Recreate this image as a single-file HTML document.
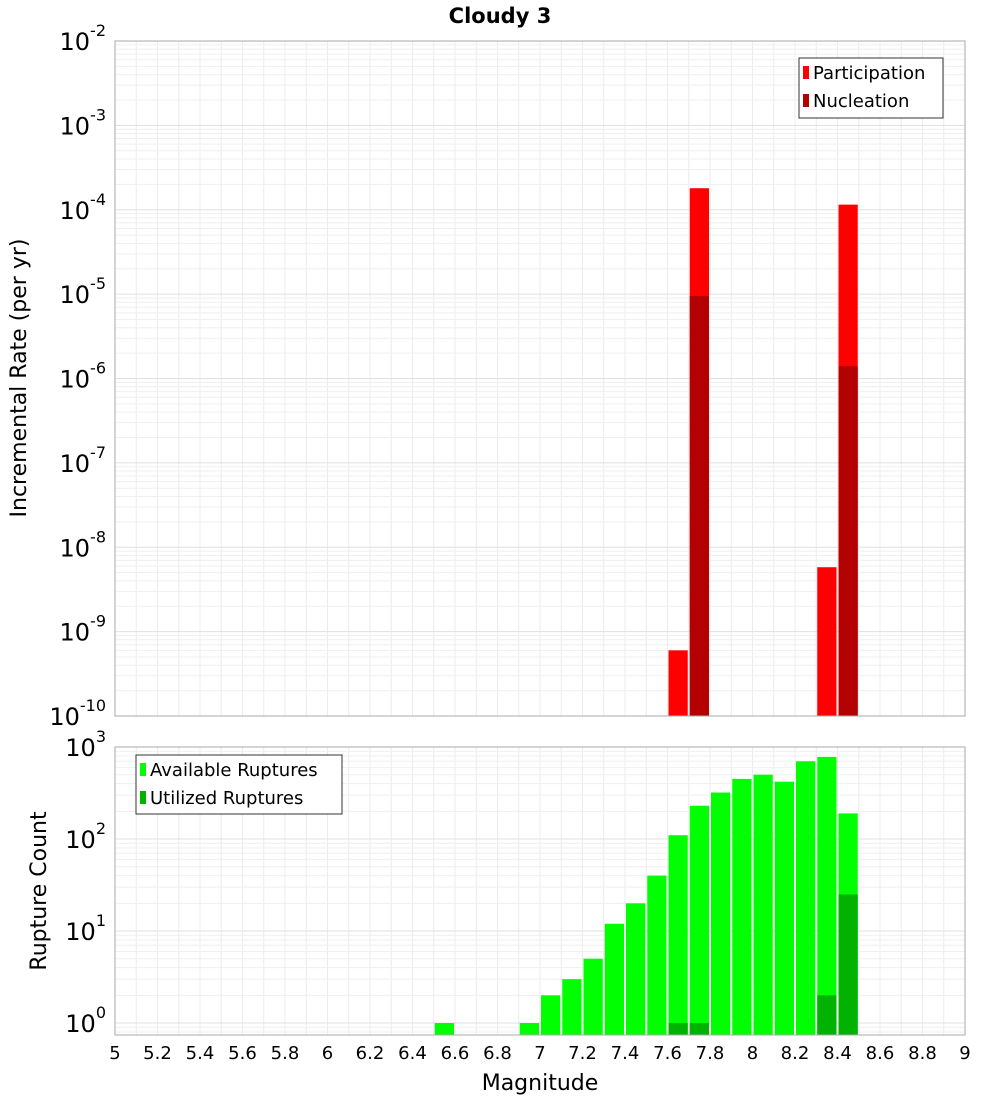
<!DOCTYPE html>
<html><head><meta charset="utf-8"><style>
body{margin:0;background:#fff;font-family:"Liberation Sans","DejaVu Sans",sans-serif}
</style></head><body>
<svg id="c" width="1000" height="1100" xmlns="http://www.w3.org/2000/svg" font-family="DejaVu Sans, Liberation Sans, sans-serif">
<rect width="1000" height="1100" fill="#fff"/>
<text x="500" y="23" text-anchor="middle" font-size="21" font-weight="bold">Cloudy 3</text>
<g id="top"></g><g id="bot"></g>
</svg>
<script>
const magTicks=[5,5.2,5.4,5.6,5.8,6,6.2,6.4,6.6,6.8,7,7.2,7.4,7.6,7.8,8,8.2,8.4,8.6,8.8,9];
const partBins=[7.65,7.75,8.35,8.45];
const partVals=[6e-10,1.8e-4,5.8e-9,1.15e-4];
const nuclBins=[7.75,8.45];
const nuclVals=[9.5e-6,1.4e-6];
const availBins=[6.55,6.95,7.05,7.15,7.25,7.35,7.45,7.55,7.65,7.75,7.85,7.95,8.05,8.15,8.25,8.35,8.45];
const availVals=[1,1,2,3,5,12,20,40,110,230,320,450,500,420,700,780,190];
const utilBins=[7.65,7.75,8.35,8.45];
const utilVals=[1,1,2,25];
const topExp=[-10,-9,-8,-7,-6,-5,-4,-3,-2];
const botExp=[0,1,2,3];

const NS="http://www.w3.org/2000/svg";
const L=115,R=965;
const xs=m=>L+(m-5)/4*(R-L);
function el(p,t,a,txt){const e=document.createElementNS(NS,t);for(const k in a)e.setAttribute(k,a[k]);if(txt!==undefined)e.textContent=txt;p.appendChild(e);return e;}
function panel(g,T,B,lo,hi,exps){
  const ys=v=>B-(Math.log10(v)-lo)/(hi-lo)*(B-T);
  for(let i=0;i<=40;i++){const x=xs(5+i*0.1);const e=el(g,'line',{x1:x,x2:x,y1:T,y2:B,stroke:'#ececec','stroke-width':1});
  
  }
  for(let d=Math.floor(lo);d<Math.ceil(hi);d++)for(let k=1;k<10;k++){const v=Math.pow(10,d)*k;const lv=Math.log10(v);if(lv<lo||lv>hi)continue;const y=ys(v);
  const e=el(g,'line',{x1:L,x2:R,y1:y,y2:y,stroke:k==1?'#e0e0e0':'#efefef','stroke-width':1});
  
  }
  exps.forEach(p=>{const y=ys(Math.pow(10,p));const t=el(g,'text',{x:106,y:y+9,'text-anchor':'end','font-size':24});
  
  
  t.appendChild(document.createTextNode('10'));el(t,'tspan',{dy:-14,'font-size':16},String(p));});
  return ys;
}
function bars(g,ys,B,bins,vals,col,name){
  bins.forEach((b,i)=>{const x0=xs(b-0.05)+1,x1=xs(b+0.05)-1;const y=ys(vals[i]);
  const r=el(g,'rect',{x:x0,y:y,width:x1-x0,height:B-y,fill:col});
  
  });
}
const gTop=document.getElementById('top'),gBot=document.getElementById('bot');
const yt=panel(gTop,41,716,-10,-2,topExp);
bars(gTop,yt,716,partBins,partVals,'#ff0000','participation-bar');
bars(gTop,yt,716,nuclBins,nuclVals,'#b30000','nucleation-bar');
el(gTop,'rect',{x:L,y:41,width:R-L,height:675,fill:'none',stroke:'#aaa'});
const yb=panel(gBot,747,1035,-0.13,3,botExp);
bars(gBot,yb,1035,availBins,availVals,'#00ff00','available-bar');
bars(gBot,yb,1035,utilBins,utilVals,'#00b300','utilized-bar');
el(gBot,'rect',{x:L,y:747,width:R-L,height:288,fill:'none',stroke:'#aaa'});
magTicks.forEach(m=>{const t=el(gBot,'text',{x:xs(m),y:1059,'text-anchor':'middle','font-size':18},String(m));

});
</script>
<svg style="position:absolute;left:0;top:0" width="1000" height="1100" font-family="DejaVu Sans, Liberation Sans, sans-serif">
<text x="540" y="1090" text-anchor="middle" font-size="22">Magnitude</text>
<text transform="translate(26,378) rotate(-90)" text-anchor="middle" font-size="22">Incremental Rate (per yr)</text>
<text transform="translate(46,891) rotate(-90)" text-anchor="middle" font-size="22">Rupture Count</text>
<g>
<rect x="799" y="58" width="144" height="60" fill="#fff" stroke="#333"/>
<rect x="803" y="66" width="6" height="13" fill="#ff0000"/><text x="813" y="79" font-size="18">Participation</text>
<rect x="803" y="94" width="6" height="13" fill="#b30000"/><text x="813" y="107" font-size="18">Nucleation</text>
</g>
<g>
<rect x="136" y="755" width="206" height="59" fill="#fff" stroke="#333"/>
<rect x="140" y="763" width="6" height="13" fill="#00ff00"/><text x="150" y="776" font-size="18">Available Ruptures</text>
<rect x="140" y="791" width="6" height="13" fill="#00b300"/><text x="150" y="804" font-size="18">Utilized Ruptures</text>
</g>
</svg>
</body></html>
